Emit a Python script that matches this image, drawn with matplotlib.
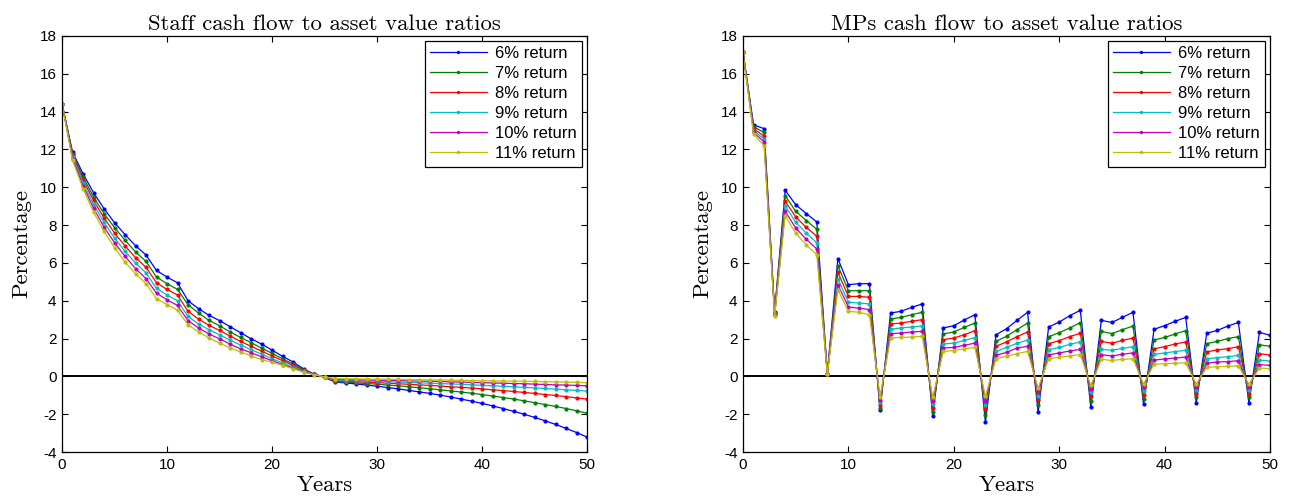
import matplotlib
matplotlib.use("Agg")
import matplotlib.pyplot as plt
import numpy as np

years = list(range(51))
labels = ["6% return", "7% return", "8% return", "9% return", "10% return", "11% return"]
colors = ["#0000ff", "#008000", "#ff0000", "#00bfbf", "#bf00bf", "#bfbf00"]

staff_6 = [14.43, 11.87, 10.72, 9.72, 8.87, 8.13, 7.50, 6.91, 6.42, 5.60, 5.25, 4.95, 4.00, 3.58, 3.23, 2.95, 2.63,
           2.31, 1.99, 1.71, 1.39, 1.06, 0.76, 0.40, 0.12, -0.05,
           -0.30, -0.35, -0.40, -0.46, -0.52, -0.59, -0.66, -0.74, -0.82, -0.90, -0.99, -1.09, -1.20, -1.31,
           -1.43, -1.56, -1.70, -1.85, -2.00, -2.17, -2.35, -2.54, -2.75, -2.97, -3.21]
staff_7 = [14.43, 11.78, 10.56, 9.49, 8.61, 7.87, 7.20, 6.58, 6.08, 5.25, 4.90, 4.60, 3.79, 3.35, 2.96, 2.68, 2.35,
           2.06, 1.78, 1.50, 1.22, 0.93, 0.65, 0.36, 0.11, -0.05,
           -0.27, -0.30, -0.34, -0.38, -0.41, -0.46, -0.50, -0.55, -0.60, -0.65, -0.71, -0.77, -0.83, -0.89,
           -0.96, -1.04, -1.12, -1.20, -1.29, -1.39, -1.49, -1.59, -1.70, -1.82, -1.95]
staff_8 = [14.43, 11.70, 10.40, 9.31, 8.38, 7.58, 6.90, 6.28, 5.77, 4.95, 4.60, 4.30, 3.44, 3.03, 2.70, 2.43, 2.13,
           1.85, 1.59, 1.34, 1.08, 0.83, 0.58, 0.32, 0.10, -0.04,
           -0.24, -0.26, -0.28, -0.31, -0.33, -0.36, -0.39, -0.42, -0.45, -0.48, -0.51, -0.55, -0.58, -0.62,
           -0.66, -0.71, -0.75, -0.80, -0.85, -0.90, -0.96, -1.01, -1.07, -1.14, -1.20]
staff_9 = [14.43, 11.62, 10.25, 9.10, 8.15, 7.32, 6.61, 6.00, 5.47, 4.65, 4.30, 4.00, 3.17, 2.77, 2.47, 2.20, 1.92,
           1.66, 1.41, 1.18, 0.93, 0.71, 0.49, 0.28, 0.10, -0.03,
           -0.20, -0.22, -0.23, -0.25, -0.26, -0.28, -0.30, -0.32, -0.34, -0.36, -0.38, -0.40, -0.42, -0.45,
           -0.47, -0.50, -0.52, -0.55, -0.58, -0.61, -0.64, -0.67, -0.71, -0.74, -0.78]
staff_10 = [14.43, 11.52, 10.09, 8.90, 7.90, 7.07, 6.35, 5.70, 5.17, 4.40, 4.05, 3.75, 2.95, 2.56, 2.24, 1.99, 1.71,
            1.46, 1.25, 1.04, 0.83, 0.62, 0.44, 0.25, 0.10, -0.03,
            -0.16, -0.17, -0.18, -0.19, -0.20, -0.21, -0.22, -0.24, -0.25, -0.26, -0.27, -0.29, -0.30, -0.32,
            -0.33, -0.35, -0.36, -0.38, -0.39, -0.41, -0.43, -0.45, -0.46, -0.48, -0.50]
staff_11 = [14.43, 11.43, 9.93, 8.69, 7.67, 6.81, 6.05, 5.43, 4.90, 4.10, 3.80, 3.50, 2.73, 2.35, 2.03, 1.76, 1.50,
            1.29, 1.09, 0.88, 0.76, 0.58, 0.41, 0.22, 0.09, -0.02,
            -0.12, -0.13, -0.13, -0.14, -0.15, -0.15, -0.16, -0.17, -0.18, -0.19, -0.19, -0.20, -0.21, -0.22,
            -0.23, -0.24, -0.25, -0.25, -0.26, -0.27, -0.28, -0.29, -0.30, -0.32, -0.33]

mps_6 = [17.15, 13.30, 13.10, 3.40, 9.84, 9.08, 8.61, 8.17, 0.15, 6.23, 4.85, 4.90, 4.90, -1.80, 3.35, 3.44, 3.65,
         3.83, -2.12, 2.56, 2.68, 2.98, 3.26, -2.43, 2.20, 2.52, 2.96, 3.39, -1.90, 2.61, 2.87, 3.21, 3.49, -1.63,
         2.96, 2.85, 3.12, 3.39, -1.46, 2.49, 2.68, 2.91, 3.12, -1.41, 2.28, 2.43, 2.66, 2.85, -1.41, 2.33, 2.17]
mps_7 = [17.15, 13.20, 12.90, 3.36, 9.56, 8.73, 8.24, 7.78, 0.14, 5.86, 4.53, 4.53, 4.53, -1.65, 3.03, 3.12, 3.26,
         3.39, -1.87, 2.24, 2.35, 2.59, 2.82, -2.05, 1.85, 2.12, 2.47, 2.82, -1.50, 2.10, 2.31, 2.56, 2.84, -1.29,
         2.38, 2.26, 2.47, 2.66, -1.20, 1.92, 2.06, 2.24, 2.42, -1.11, 1.73, 1.85, 2.00, 2.10, -1.11, 1.67, 1.59]
mps_8 = [17.15, 13.10, 12.70, 3.32, 9.26, 8.43, 7.88, 7.41, 0.14, 5.50, 4.23, 4.23, 4.18, -1.50, 2.77, 2.82, 2.91,
         3.00, -1.68, 1.94, 2.03, 2.20, 2.42, -1.75, 1.59, 1.82, 2.10, 2.35, -1.27, 1.73, 1.89, 2.10, 2.28, -1.02,
         1.85, 1.75, 1.90, 2.03, -0.97, 1.46, 1.57, 1.71, 1.82, -0.92, 1.29, 1.40, 1.46, 1.57, -0.92, 1.20, 1.13]
mps_9 = [17.15, 13.00, 12.55, 3.28, 9.03, 8.15, 7.57, 7.07, 0.13, 5.17, 3.92, 3.88, 3.83, -1.36, 2.50, 2.56, 2.61,
         2.66, -1.47, 1.71, 1.76, 1.90, 2.05, -1.50, 1.32, 1.53, 1.75, 1.92, -1.02, 1.41, 1.53, 1.69, 1.82, -0.83,
         1.43, 1.38, 1.48, 1.57, -0.76, 1.16, 1.24, 1.31, 1.38, -0.71, 0.93, 0.99, 1.04, 1.11, -0.71, 0.86, 0.81]
mps_10 = [17.15, 12.90, 12.40, 3.24, 8.73, 7.85, 7.25, 6.74, 0.13, 4.85, 3.67, 3.61, 3.53, -1.23, 2.26, 2.29, 2.35,
          2.38, -1.29, 1.50, 1.53, 1.64, 1.76, -1.29, 1.11, 1.27, 1.50, 1.59, -0.85, 1.13, 1.24, 1.34, 1.43, -0.67,
          1.15, 1.08, 1.17, 1.24, -0.58, 0.86, 0.92, 0.97, 1.02, -0.56, 0.70, 0.76, 0.78, 0.83, -0.56, 0.62, 0.58]
mps_11 = [17.15, 12.80, 12.20, 3.20, 8.50, 7.57, 6.95, 6.44, 0.12, 4.59, 3.44, 3.39, 3.26, -1.10, 2.03, 2.06, 2.08,
          2.12, -1.11, 1.32, 1.36, 1.46, 1.53, -1.06, 0.93, 1.06, 1.20, 1.32, -0.62, 0.93, 1.01, 1.08, 1.15, -0.48,
          0.90, 0.84, 0.90, 0.93, -0.41, 0.64, 0.67, 0.69, 0.72, -0.41, 0.48, 0.51, 0.53, 0.56, -0.41, 0.44, 0.41]

staff_series = [staff_6, staff_7, staff_8, staff_9, staff_10, staff_11]
mps_series = [mps_6, mps_7, mps_8, mps_9, mps_10, mps_11]
titles = ["Staff cash flow to asset value ratios", "MPs cash flow to asset value ratios"]
yticks = list(range(-4, 19, 2))
xticks = list(range(0, 51, 10))

plt.rcParams['axes.unicode_minus'] = False
fig = plt.figure(figsize=(12.9, 4.97), dpi=100)
ax1 = fig.add_axes([62 / 1290, 1 - 452 / 497, 525 / 1290, 416 / 497])
ax2 = fig.add_axes([743 / 1290, 1 - 452 / 497, 527 / 1290, 416 / 497])

serif = ['cmr10', 'DejaVu Serif']
sans = ['Liberation Sans', 'DejaVu Sans']

for ax, series, title in zip([ax1, ax2], [staff_series, mps_series], titles):
    ax.axhline(0, color='black', lw=1.4, zorder=1)
    for vals, c, lab in zip(series, colors, labels):
        ax.plot(years, vals, color=c, lw=0.9, marker='.', markersize=4, label=lab, zorder=2)
    ax.set_xlim(0, 50)
    ax.set_ylim(-4, 18)
    ax.set_xticks(xticks)
    ax.set_yticks(yticks)
    ax.tick_params(direction='in', top=True, right=True, length=4, width=0.8, labelsize=11, pad=4)
    for t in ax.get_xticklabels() + ax.get_yticklabels():
        t.set_family(sans)
    for s in ax.spines.values():
        s.set_linewidth(0.9)
    ax.set_title(title, family=serif, fontsize=16.4, pad=4)
    ax.set_xlabel("Years", family=serif, fontsize=16.4, labelpad=3)
    ax.set_ylabel("Percentage", family=serif, fontsize=16.4, labelpad=6)
    leg = ax.legend(loc='upper right', prop={'family': sans, 'size': 12}, fancybox=False,
                    edgecolor='black', framealpha=1, borderaxespad=0.3, handlelength=3.4,
                    labelspacing=0.3, borderpad=0.32, handletextpad=0.5, markerscale=0.7)
    leg.get_frame().set_linewidth(0.9)

fig.savefig("out.png", dpi=100)
